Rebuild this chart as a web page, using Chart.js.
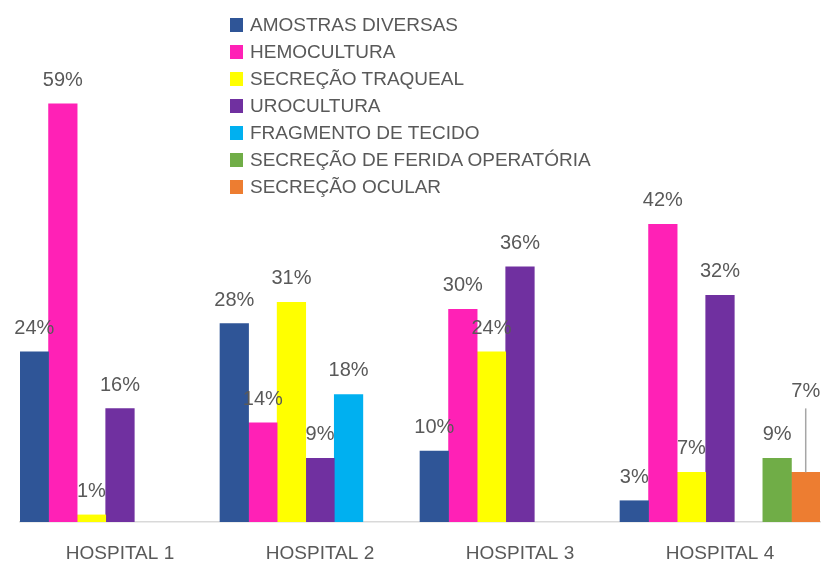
<!DOCTYPE html>
<html>
<head>
<meta charset="utf-8">
<script src="https://cdn.jsdelivr.net/npm/chart.js@4.4.0/dist/chart.umd.min.js"></script>
<style>
  html, body { margin: 0; padding: 0; background: #ffffff; }
  #wrap { position: relative; width: 822px; height: 563px; overflow: hidden; }
  #c { position: absolute; left: 0; top: 0; }
  #legend { position: absolute; left: 230px; top: 11px; font-family: "Liberation Sans", Arial, sans-serif; font-size: 19px; color: #595959; }
  #legend .row { display: flex; align-items: center; height: 27px; white-space: nowrap; }
  #legend .sw { width: 13px; height: 14px; margin-right: 7px; flex: none; }
</style>
</head>
<body>
<div id="wrap">
  <canvas id="c" width="822" height="563"></canvas>
  <div id="legend"></div>
</div>
<script>
const categories = ['HOSPITAL 1', 'HOSPITAL 2', 'HOSPITAL 3', 'HOSPITAL 4'];
const seriesNames = ['AMOSTRAS DIVERSAS', 'HEMOCULTURA', 'SECREÇÃO TRAQUEAL', 'UROCULTURA', 'FRAGMENTO DE TECIDO', 'SECREÇÃO DE FERIDA OPERATÓRIA', 'SECREÇÃO OCULAR'];
const amostrasDiversas = [24, 28, 10, 3];
const hemocultura = [59, 14, 30, 42];
const secrecaoTraqueal = [1, 31, 24, 7];
const urocultura = [16, 9, 36, 32];
const fragmentoTecido = [null, 18, null, null];
const secrecaoFerida = [null, null, null, 9];
const secrecaoOcular = [null, null, null, 7];

const seriesValues = [amostrasDiversas, hemocultura, secrecaoTraqueal, urocultura, fragmentoTecido, secrecaoFerida, secrecaoOcular];
const seriesColors = ['#2F5597', '#FF21B6', '#FFFF00', '#7030A0', '#00B0F0', '#70AD47', '#ED7D31'];

const FONT = '"Liberation Sans", Arial, sans-serif';

const labelPlugin = {
  id: 'valueLabels',
  afterDatasetsDraw(chart, args, opts) {
    const ctx = chart.ctx;
    ctx.save();
    ctx.font = '20px ' + FONT;
    ctx.fillStyle = '#595959';
    ctx.textAlign = 'center';
    ctx.textBaseline = 'alphabetic';
    chart.data.datasets.forEach((ds, di) => {
      const meta = chart.getDatasetMeta(di);
      meta.data.forEach((el, i) => {
        const v = ds.data[i];
        if (v === null || v === undefined) return;
        let y = el.y - 18;
        const lifted = opts.leader && opts.leader.dataset === di && opts.leader.index === i;
        if (lifted) {
          y -= opts.leader.lift;
          ctx.save();
          ctx.strokeStyle = '#A6A6A6';
          ctx.lineWidth = 1.5;
          ctx.beginPath();
          ctx.moveTo(el.x, y + 11);
          ctx.lineTo(el.x, el.y);
          ctx.stroke();
          ctx.restore();
        }
        ctx.fillText(v + '%', el.x, y);
      });
    });
    ctx.restore();
  }
};

const chart = new Chart(document.getElementById('c'), {
  type: 'bar',
  data: {
    labels: categories,
    datasets: seriesNames.map((name, k) => ({
      label: name,
      data: seriesValues[k],
      backgroundColor: seriesColors[k],
      borderWidth: 0,
      categoryPercentage: 1.0,
      barPercentage: 1.0
    }))
  },
  options: {
    responsive: false,
    animation: false,
    layout: { padding: { left: 20, right: 2, top: 26, bottom: 0 } },
    plugins: {
      legend: { display: false },
      tooltip: { enabled: false },
      valueLabels: { leader: { dataset: 6, index: 3, lift: 57 } }
    },
    scales: {
      x: {
        grid: { display: false, drawTicks: false, tickLength: 0 },
        border: { display: true, color: '#D9D9D9', width: 1.5 },
        ticks: { color: '#595959', font: { family: FONT, size: 19 }, padding: 20 },
        afterFit: (scale) => { scale.height = 41; }
      },
      y: {
        display: false,
        min: 0,
        max: 70
      }
    }
  },
  plugins: [labelPlugin]
});

const legendEl = document.getElementById('legend');
chart.data.datasets.forEach(ds => {
  const row = document.createElement('div');
  row.className = 'row';
  const sw = document.createElement('span');
  sw.className = 'sw';
  sw.style.background = ds.backgroundColor;
  const tx = document.createElement('span');
  tx.textContent = ds.label;
  row.appendChild(sw);
  row.appendChild(tx);
  legendEl.appendChild(row);
});
</script>
</body>
</html>
